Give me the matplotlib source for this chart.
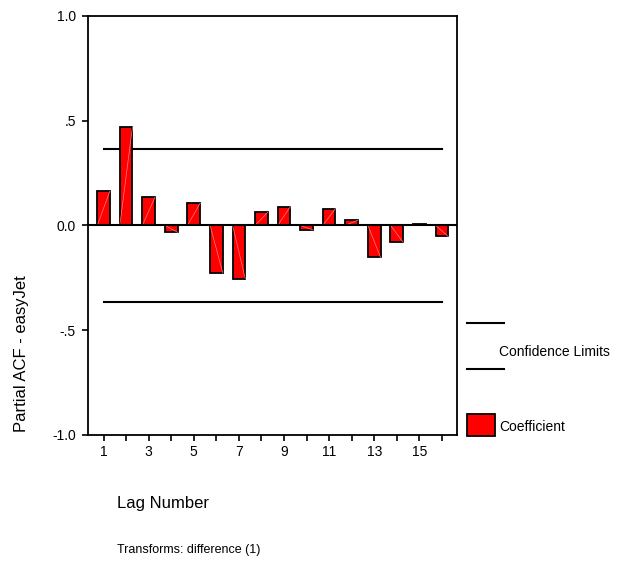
import numpy as np
import matplotlib.pyplot as plt

plt.rcParams['font.family'] = ['Liberation Sans', 'DejaVu Sans']

lags = np.arange(1, 17)
pacf = [0.163, 0.469, 0.134, -0.033, 0.105, -0.225, -0.254, 0.062,
        0.089, -0.022, 0.080, 0.025, -0.153, -0.080, 0.005, -0.053]
conf_limit = 0.365
y_ticks = [-1.0, -0.5, 0.0, 0.5, 1.0]
y_ticklabels = ['-1.0', '-.5', '0.0', '.5', '1.0']

fig = plt.figure(figsize=(6.27, 5.65), dpi=100)
ax = fig.add_axes([0.1411, 0.2301, 0.5878, 0.7421])

width = 0.56
bars = ax.bar(lags, pacf, width=width, color='#ff0000', edgecolor='black',
              linewidth=1.3, zorder=2, label='Coefficient')
# faint diagonal inside each bar
for x, v in zip(lags, pacf):
    ax.plot([x - width / 2, x + width / 2], [0, v], color='#ff8080',
            linewidth=0.5, zorder=3)

ax.axhline(0, color='black', linewidth=1.5, zorder=4)
ax.plot([lags[0], lags[-1]], [conf_limit, conf_limit], color='black', linewidth=1.5, zorder=1)
ax.plot([lags[0], lags[-1]], [-conf_limit, -conf_limit], color='black', linewidth=1.5, zorder=1)

ax.set_xlim(lags[0] - 0.67, lags[-1] + 0.67)
ax.set_ylim(-1, 1)
ax.set_yticks(y_ticks)
ax.set_yticklabels(y_ticklabels)
ax.set_xticks(lags)
ax.set_xticklabels([str(l) if l % 2 == 1 else '' for l in lags])
ax.tick_params(axis='both', direction='out', length=4, width=1.2, labelsize=10, color='black')
ax.tick_params(axis='y', pad=5)
for s in ax.spines.values():
    s.set_linewidth(1.3)

fig.text(0.035, 0.375, 'Partial ACF - easyJet', rotation=90, fontsize=12,
         ha='center', va='center')
fig.text(0.187, 0.108, 'Lag Number', fontsize=12, ha='left', va='center')
fig.text(0.187, 0.026, 'Transforms: difference (1)', fontsize=9, ha='left', va='center')

# legend drawn by hand in figure coords
fig.lines.append(plt.Line2D([0.745, 0.804], [1 - 323 / 565] * 2, color='black', linewidth=1.5,
                            transform=fig.transFigure))
fig.lines.append(plt.Line2D([0.745, 0.804], [1 - 369 / 565] * 2, color='black', linewidth=1.5,
                            transform=fig.transFigure))
fig.text(0.796, 1 - 352 / 565, 'Confidence Limits', fontsize=10, ha='left', va='center')
fig.patches.append(plt.Rectangle((0.745, 1 - 436 / 565), 0.045, 22 / 565, facecolor='#ff0000',
                                 edgecolor='black', linewidth=1.3, transform=fig.transFigure))
fig.text(0.796, 1 - 427 / 565, 'Coefficient', fontsize=10, ha='left', va='center')

fig.savefig('out.png', dpi=100)
